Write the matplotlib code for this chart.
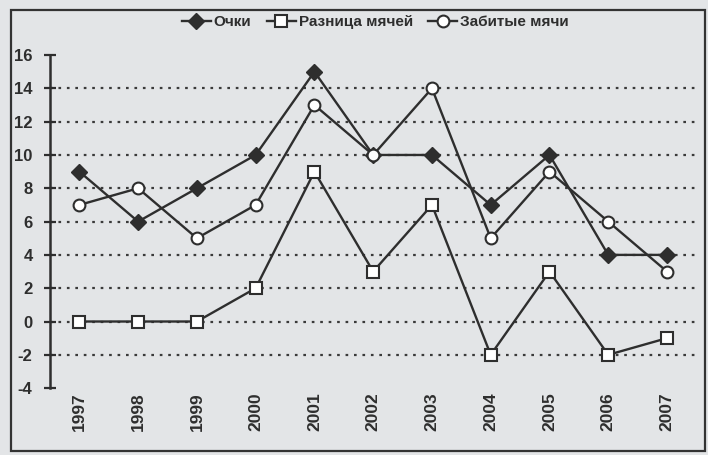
import matplotlib
matplotlib.use("Agg")
import matplotlib.pyplot as plt
from matplotlib.patches import Rectangle
from matplotlib import font_manager

years = ["1997", "1998", "1999", "2000", "2001", "2002",
         "2003", "2004", "2005", "2006", "2007"]
points = [9, 6, 8, 10, 15, 10, 10, 7, 10, 4, 4]           # Очки
goal_diff = [0, 0, 0, 2, 9, 3, 7, -2, 3, -2, -1]          # Разница мячей
goals_for = [7, 8, 5, 7, 13, 10, 14, 5, 9, 6, 3]          # Забитые мячи

names = {f.name for f in font_manager.fontManager.ttflist}
narrow = "Liberation Sans Narrow" if "Liberation Sans Narrow" in names else "Liberation Sans"
plt.rcParams["font.family"] = ["Liberation Sans", "DejaVu Sans"]

BG = "#e3e5e7"
INK = "#2e2e2e"

fig = plt.figure(figsize=(7.08, 4.55), dpi=100, facecolor=BG)
ax = fig.add_axes([0.0706, 0.147, 0.913, 0.732])
ax.set_facecolor(BG)

x = range(len(years))
ax.plot(x, points, color=INK, lw=1.7, marker="D", ms=8,
        mfc=INK, mec=INK, label="Очки", zorder=4)
ax.plot(x, goal_diff, color=INK, lw=1.7, marker="s", ms=8.5,
        mfc="white", mec=INK, mew=1.5, label="Разница мячей", zorder=4)
ax.plot(x, goals_for, color=INK, lw=1.7, marker="o", ms=8.5,
        mfc="white", mec=INK, mew=1.5, label="Забитые мячи", zorder=4)

# dotted horizontal gridlines
for yv in range(-2, 15, 2):
    ax.axhline(yv, color="#3a3a3a", lw=1.6, ls=(0, (1.2, 2.6)), zorder=1)

ax.set_xlim(-0.5, len(years) - 0.5)
ax.set_ylim(-4, 16)
ax.set_yticks(range(-4, 17, 2))
ax.set_yticklabels([str(v) for v in range(-4, 17, 2)],
                   fontsize=12, fontweight="bold", color=INK)
ax.tick_params(axis="y", direction="inout", length=9, width=1.6,
               color=INK, pad=8)

ax.set_xticks(list(x))
ax.set_xticklabels(years, rotation=90, fontsize=12.5, fontweight="bold",
                   color=INK)
ax.tick_params(axis="x", length=0, pad=3)

for side in ["top", "right", "bottom"]:
    ax.spines[side].set_visible(False)
ax.spines["left"].set_linewidth(1.8)
ax.spines["left"].set_color(INK)

leg = fig.legend(loc="center", bbox_to_anchor=(0.53, 0.951), ncol=3,
                 frameon=False, handlelength=1.9, handletextpad=0.2,
                 columnspacing=1.0,
                 prop={"family": narrow, "weight": "bold", "size": 11})
for t in leg.get_texts():
    t.set_color(INK)

# page frame around the chart
fig.patches.append(Rectangle((11 / 708, 4 / 455), 694 / 708, 441 / 455,
                             transform=fig.transFigure, fill=False,
                             edgecolor="#333333", lw=1.6))

fig.savefig("out.png", dpi=100, facecolor=BG)
